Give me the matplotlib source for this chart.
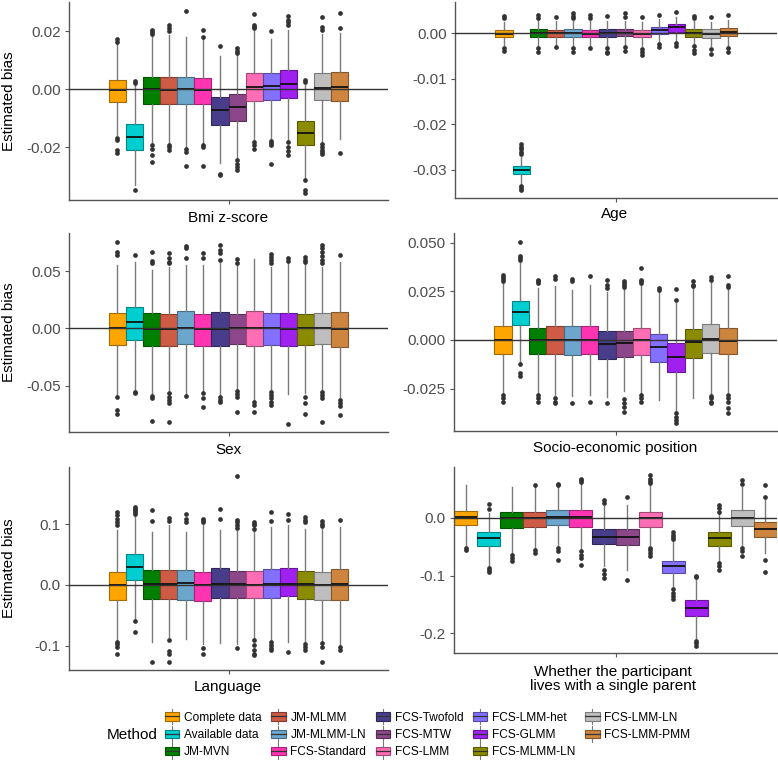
import numpy as np
import matplotlib
matplotlib.use("Agg")
import matplotlib.pyplot as plt
from matplotlib.colors import to_rgb
from matplotlib.patches import Rectangle
from matplotlib.lines import Line2D
from matplotlib.legend_handler import HandlerBase

plt.rcParams['font.family'] = ['Liberation Sans', 'DejaVu Sans']
plt.rcParams['axes.unicode_minus'] = False

methods = ["Complete data", "Available data", "JM-MVN", "JM-MLMM", "JM-MLMM-LN",
           "FCS-Standard", "FCS-Twofold", "FCS-MTW", "FCS-LMM", "FCS-LMM-het",
           "FCS-GLMM", "FCS-MLMM-LN", "FCS-LMM-LN", "FCS-LMM-PMM"]
colors = ["#FFA500", "#00CED1", "#008000", "#CD5B45", "#6CA6CD", "#FF34B3", "#483D8B",
          "#8B4789", "#FF6EB4", "#8470FF", "#A020F0", "#8B8B00", "#BEBEBE", "#CD853F"]

# Bmi z-score
bmi_lo = [-0.0158, -0.0330, -0.0185, -0.0187, -0.0198, -0.0187, -0.0255, -0.0238, -0.0176, -0.0170, -0.0176, -0.0305, -0.0182, -0.0170]
bmi_q1 = [-0.0045, -0.0208, -0.0049, -0.0049, -0.0049, -0.0049, -0.0122, -0.0108, -0.0040, -0.0035, -0.0031, -0.0191, -0.0037, -0.0040]
bmi_med = [-0.0003, -0.0165, 0.0000, -0.0003, 0.0000, -0.0003, -0.0070, -0.0060, 0.0008, 0.0011, 0.0020, -0.0150, 0.0006, 0.0008]
bmi_q3 = [0.0034, -0.0119, 0.0042, 0.0044, 0.0044, 0.0040, -0.0026, -0.0017, 0.0057, 0.0057, 0.0068, -0.0110, 0.0056, 0.0059]
bmi_hi = [0.0155, 0.0015, 0.0185, 0.0188, 0.0180, 0.0175, 0.0114, 0.0118, 0.0200, 0.0175, 0.0205, 0.0015, 0.0190, 0.0195]
bmi_out = [[0.0172, 0.0163, -0.0167, -0.0175, -0.0210, -0.0220],
           [0.0030, 0.0023, -0.0345],
           [0.0205, 0.0197, 0.0190, -0.0193, -0.0205, -0.0227, -0.0250],
           [0.0222, 0.0212, 0.0200, -0.0193, -0.0199, -0.0208],
           [0.0270, -0.0205, -0.0215, -0.0265],
           [0.0206, 0.0182, -0.0193, -0.0200, -0.0264],
           [0.0148, -0.0290, -0.0295],
           [0.0142, 0.0133, 0.0125, -0.0244, -0.0256, -0.0267, -0.0278],
           [0.0258, 0.0222, 0.0216, 0.0210, -0.0182, -0.0193, -0.0205],
           [0.0201, -0.0178, -0.0186, -0.0193, -0.0258],
           [0.0253, 0.0240, 0.0231, 0.0222, -0.0182, -0.0199, -0.0212, -0.0227],
           [0.0034, 0.0026, -0.0312, -0.0347, -0.0356],
           [0.0250, 0.0216, 0.0205, -0.0188, -0.0199, -0.0210, -0.0216, -0.0222],
           [0.0264, 0.0210, -0.0219]]

# Age
age_lo = [-0.0025, -0.0330, -0.0028, -0.0025, -0.0028, -0.0027, -0.0028, -0.0027, -0.0028, -0.0020, -0.0016, -0.0025, -0.0028, -0.0027]
age_q1 = [-0.0009, -0.0309, -0.0008, -0.0007, -0.0008, -0.0007, -0.0007, -0.0006, -0.0009, -0.0001, 0.0004, -0.0007, -0.0010, -0.0006]
age_med = [-0.0001, -0.0301, 0.0000, 0.0000, 0.0000, -0.0001, 0.0001, 0.0001, -0.0001, 0.0007, 0.0013, 0.0000, -0.0001, 0.0004]
age_q3 = [0.0007, -0.0292, 0.0009, 0.0008, 0.0009, 0.0007, 0.0009, 0.0009, 0.0007, 0.0015, 0.0020, 0.0009, 0.0009, 0.0011]
age_hi = [0.0025, -0.0272, 0.0028, 0.0027, 0.0028, 0.0027, 0.0028, 0.0028, 0.0026, 0.0032, 0.0035, 0.0028, 0.0026, 0.0030]
age_out = [[0.0038, 0.0033, -0.0033, -0.0038],
           [-0.0244, -0.0250, -0.0255, -0.0260, -0.0265, -0.0335, -0.0340, -0.0344],
           [0.0040, 0.0033, -0.0033, -0.0040],
           [0.0036, -0.0031],
           [0.0044, 0.0038, 0.0033, -0.0033, -0.0040],
           [0.0040, 0.0033, -0.0033],
           [0.0038, -0.0033, -0.0040, -0.0044],
           [0.0044, 0.0036, -0.0031, -0.0038],
           [0.0036, -0.0035, -0.0040, -0.0047],
           [0.0041, -0.0024, -0.0029],
           [0.0047, -0.0022, -0.0028],
           [0.0038, 0.0034, -0.0028, -0.0036, -0.0044],
           [0.0036, -0.0035, -0.0046],
           [0.0040, -0.0033, -0.0040]]

# Sex
sex_lo = [-0.0583, -0.0540, -0.0575, -0.0540, -0.0580, -0.0550, -0.0580, -0.0530, -0.0627, -0.0540, -0.0577, -0.0568, -0.0540, -0.0612]
sex_q1 = [-0.0149, -0.0102, -0.0152, -0.0152, -0.0140, -0.0152, -0.0155, -0.0140, -0.0155, -0.0143, -0.0152, -0.0146, -0.0134, -0.0160]
sex_med = [0.0000, 0.0058, -0.0006, -0.0006, 0.0000, -0.0009, -0.0006, 0.0000, 0.0000, 0.0000, -0.0006, 0.0000, 0.0006, -0.0006]
sex_q3 = [0.0137, 0.0190, 0.0131, 0.0125, 0.0152, 0.0125, 0.0140, 0.0125, 0.0155, 0.0131, 0.0137, 0.0128, 0.0134, 0.0140]
sex_hi = [0.0554, 0.0583, 0.0510, 0.0540, 0.0554, 0.0554, 0.0570, 0.0554, 0.0606, 0.0540, 0.0570, 0.0570, 0.0540, 0.0583]
sex_out = [[0.0752, 0.0670, 0.0641, -0.0598, -0.0714, -0.0749],
           [0.0641, -0.0554, -0.0568],
           [0.0670, 0.0589, 0.0568, -0.0592, -0.0612, -0.0807],
           [0.0656, 0.0612, 0.0583, 0.0568, -0.0568, -0.0598, -0.0627, -0.0656, -0.0816],
           [0.0720, 0.0700, 0.0612, -0.0592],
           [0.0656, 0.0612, -0.0568, -0.0612, -0.0685],
           [0.0729, 0.0685, 0.0656, 0.0598, -0.0598, -0.0627, -0.0641],
           [0.0606, 0.0568, -0.0545, -0.0574, -0.0598, -0.0729],
           [-0.0641, -0.0670, -0.0729],
           [0.0650, 0.0627, 0.0598, 0.0568, -0.0554, -0.0583, -0.0612, -0.0641, -0.0670],
           [0.0612, 0.0592, -0.0840],
           [0.0627, 0.0598, 0.0577, -0.0598, -0.0650, -0.0749],
           [0.0729, 0.0700, 0.0670, 0.0632, 0.0598, 0.0568, -0.0554, -0.0583, -0.0612, -0.0822],
           [0.0641, -0.0627, -0.0656, -0.0680, -0.0758]]

# Socio-economic position
sep_lo = [-0.0275, -0.0112, -0.0275, -0.0283, -0.0290, -0.0283, -0.0295, -0.0265, -0.0275, -0.0309, -0.0369, -0.0300, -0.0280, -0.0270]
sep_q1 = [-0.0074, 0.0074, -0.0074, -0.0072, -0.0077, -0.0072, -0.0100, -0.0089, -0.0077, -0.0112, -0.0163, -0.0091, -0.0069, -0.0074]
sep_med = [-0.0003, 0.0142, 0.0000, 0.0000, 0.0000, 0.0000, -0.0022, -0.0014, 0.0000, -0.0034, -0.0086, -0.0012, 0.0003, -0.0005]
sep_q3 = [0.0072, 0.0201, 0.0063, 0.0069, 0.0069, 0.0069, 0.0046, 0.0046, 0.0060, 0.0029, -0.0017, 0.0055, 0.0081, 0.0063]
sep_hi = [0.0290, 0.0395, 0.0266, 0.0275, 0.0257, 0.0283, 0.0245, 0.0260, 0.0283, 0.0249, 0.0189, 0.0266, 0.0290, 0.0260]
sep_out = [[0.0335, 0.0325, 0.0315, 0.0305, -0.0283, -0.0300, -0.0317],
           [0.0501, 0.0432, 0.0420, 0.0410, -0.0125, -0.0172, -0.0184],
           [0.0309, 0.0300, 0.0292, -0.0283, -0.0300, -0.0317],
           [0.0326, 0.0312, -0.0300, -0.0317, -0.0326],
           [0.0312, 0.0300, -0.0326],
           [0.0326, -0.0317],
           [0.0309, 0.0283, 0.0266, -0.0326],
           [0.0300, 0.0290, 0.0280, 0.0270, -0.0305, -0.0326, -0.0343, -0.0369],
           [0.0369, 0.0309, 0.0300, 0.0292, -0.0283, -0.0300, -0.0317],
           [0.0266, 0.0257],
           [0.0261, 0.0206, -0.0377, -0.0395, -0.0412, -0.0425],
           [0.0300, 0.0283, 0.0275],
           [0.0321, 0.0309, -0.0290, -0.0300, -0.0317, -0.0326],
           [0.0326, 0.0283, 0.0270, -0.0283, -0.0300, -0.0317, -0.0352, -0.0377]]

# Language
lang_lo = [-0.0910, -0.0553, -0.0937, -0.0855, -0.0882, -0.0964, -0.0953, -0.0964, -0.0882, -0.0910, -0.0937, -0.0937, -0.0937, -0.0991]
lang_q1 = [-0.0241, 0.0077, -0.0236, -0.0225, -0.0241, -0.0268, -0.0214, -0.0219, -0.0219, -0.0219, -0.0186, -0.0236, -0.0252, -0.0241]
lang_med = [0.0005, 0.0296, 0.0011, 0.0022, 0.0033, -0.0005, 0.0011, 0.0011, 0.0000, 0.0016, 0.0022, 0.0011, 0.0005, 0.0016]
lang_q3 = [0.0214, 0.0504, 0.0252, 0.0241, 0.0252, 0.0214, 0.0274, 0.0230, 0.0230, 0.0258, 0.0274, 0.0230, 0.0219, 0.0258]
lang_hi = [0.0899, 0.1145, 0.0871, 0.0980, 0.0871, 0.0991, 0.0899, 0.0880, 0.0880, 0.0953, 0.0980, 0.0926, 0.0926, 0.0953]
lang_out = [[0.1200, 0.1145, 0.1090, 0.1036, 0.0980, -0.0937, -0.0980, -0.1019, -0.1140],
            [0.1280, 0.1255, 0.1227, 0.1200, 0.1170, -0.0592, -0.0773],
            [0.1227, 0.1052, -0.1266],
            [0.1107, 0.1052, -0.0910, -0.1085, -0.1140, -0.1266],
            [0.1170, 0.1090, 0.1036],
            [0.1090, 0.1063, 0.1036, -0.1030, -0.1129],
            [0.1255, 0.1080],
            [0.1786, 0.1063, 0.1036, 0.0980, 0.0942, -0.1036],
            [0.1036, 0.1008, 0.0980, 0.0926, -0.0910, -0.0991, -0.1074, -0.1129, -0.1156],
            [0.1200, 0.1052, -0.0937, -0.0991, -0.1046, -0.1074],
            [0.1162, 0.1063, -0.1112],
            [0.1118, 0.1063, 0.1036, -0.0964, -0.1019, -0.1074],
            [0.1052, 0.1008, 0.0964, -0.0953, -0.1019, -0.1266],
            [0.1074, -0.1019, -0.1074]]

# Whether the participant lives with a single parent
par_lo = [-0.0497, -0.0840, -0.0611, -0.0526, -0.0497, -0.0554, -0.0840, -0.0897, -0.0469, -0.1183, -0.2097, -0.0754, -0.0497, -0.0611]
par_q1 = [-0.0131, -0.0497, -0.0183, -0.0154, -0.0126, -0.0154, -0.0457, -0.0480, -0.0154, -0.0954, -0.1697, -0.0486, -0.0143, -0.0337]
par_med = [0.0011, -0.0354, -0.0011, 0.0000, 0.0017, 0.0006, -0.0326, -0.0326, -0.0011, -0.0840, -0.1554, -0.0354, -0.0011, -0.0194]
par_q3 = [0.0114, -0.0240, 0.0103, 0.0103, 0.0131, 0.0131, -0.0200, -0.0200, 0.0103, -0.0754, -0.1429, -0.0240, 0.0131, -0.0069]
par_hi = [0.0560, 0.0074, 0.0531, 0.0531, 0.0531, 0.0600, 0.0200, 0.0217, 0.0560, -0.0400, -0.1040, 0.0074, 0.0530, 0.0300]
par_out = [[-0.0526, -0.0566],
           [0.0234, 0.0143, -0.0869, -0.0897, -0.0943],
           [-0.0640, -0.0697, -0.0754],
           [0.0560, -0.0554, -0.0611],
           [0.0589, 0.0560, -0.0526, -0.0583, -0.0726],
           [0.0674, 0.0650, 0.0617, -0.0583, -0.0640, -0.0697, -0.0811],
           [0.0303, 0.0246, -0.0897, -0.0966, -0.1040],
           [0.0360, -0.1069],
           [0.0731, 0.0674, 0.0640, 0.0600, -0.0526, -0.0554, -0.0611, -0.0669],
           [-0.0240, -0.0297, -0.0337, -0.0370, -0.1240, -0.1297, -0.1354, -0.1411],
           [-0.1000, -0.1020, -0.2126, -0.2171, -0.2211],
           [0.0217, 0.0160, 0.0103, -0.0783, -0.0840, -0.0897],
           [0.0646, 0.0589, -0.0526, -0.0583, -0.0657],
           [0.0560, 0.0349, -0.0726, -0.0943]]

panel_titles = ["Bmi z-score", "Age", "Sex", "Socio-economic position",
                "Language", "Whether the participant\nlives with a single parent"]
panel_ticks = [[-0.02, 0.00, 0.02], [-0.03, -0.02, -0.01, 0.00], [-0.05, 0.00, 0.05],
               [-0.025, 0.000, 0.025, 0.050], [-0.1, 0.0, 0.1], [-0.2, -0.1, 0.0]]
tick_fmt = ["%.2f", "%.2f", "%.2f", "%.3f", "%.1f", "%.1f"]
panel_data = [
    (bmi_lo, bmi_q1, bmi_med, bmi_q3, bmi_hi, bmi_out),
    (age_lo, age_q1, age_med, age_q3, age_hi, age_out),
    (sex_lo, sex_q1, sex_med, sex_q3, sex_hi, sex_out),
    (sep_lo, sep_q1, sep_med, sep_q3, sep_hi, sep_out),
    (lang_lo, lang_q1, lang_med, lang_q3, lang_hi, lang_out),
    (par_lo, par_q1, par_med, par_q3, par_hi, par_out),
]

W, H = 778, 762
# panel boxes in pixels: left, top, right, bottom
boxes_px = [(69, 2, 388, 200), (455, 2, 777, 198),
            (69, 233, 388, 432), (454, 233, 777, 431),
            (69, 467, 388, 670), (454, 467, 777, 653)]
ylims = [(-0.0381, 0.0301), (-0.0362, 0.0069), (-0.0906, 0.0833),
         (-0.0468, 0.0549), (-0.140, 0.194), (-0.2338, 0.0875)]
title_px = [(228, 218), (615, 214), (228, 450), (615, 448), (228, 687), (613, 679)]

def darker(c, f=0.65):
    r, g, b = to_rgb(c)
    return (r * f, g * f, b * f)

fig = plt.figure(figsize=(W / 100, H / 100), dpi=100)

n = len(methods)
w = 0.9 / n
pos = 1 + (np.arange(n) - (n - 1) / 2) * w

for k in range(6):
    l, t, r, b = boxes_px[k]
    ax = fig.add_axes([l / W, 1 - b / H, (r - l) / W, (b - t) / H])
    lo, q1, med, q3, hi, out = panel_data[k]
    stats = []
    for i in range(n):
        stats.append(dict(whislo=lo[i], q1=q1[i], med=med[i], q3=q3[i],
                          whishi=hi[i], fliers=np.array(out[i])))
    bp = ax.bxp(stats, positions=pos, widths=w, patch_artist=True,
                showfliers=True, manage_ticks=False,
                whiskerprops=dict(color="#7a7a7a", lw=1.0),
                capprops=dict(visible=False),
                medianprops=dict(color="#111111", lw=1.3),
                flierprops=dict(marker="o", markerfacecolor="#333333",
                                markeredgecolor="none", markersize=3.4))
    for i, patch in enumerate(bp["boxes"]):
        patch.set_facecolor(colors[i])
        patch.set_edgecolor(darker(colors[i]))
        patch.set_linewidth(0.8)
    ax.axhline(0, color="#333333", lw=1.0, zorder=5)
    if k == 5:
        ax.set_xlim(1 - 0.45, 1 + 0.45)
    else:
        ax.set_xlim(0.4, 1.6)
    ax.set_ylim(*ylims[k])
    ax.set_xticks([1])
    ax.set_xticklabels([])
    ax.set_yticks(panel_ticks[k])
    ax.set_yticklabels([tick_fmt[k] % v for v in panel_ticks[k]])
    ax.tick_params(colors="#555555", labelcolor="#4D4D4D", labelsize=11,
                   length=3, width=0.8, pad=3)
    for s in ["top", "right"]:
        ax.spines[s].set_visible(False)
    for s in ["left", "bottom"]:
        ax.spines[s].set_color("#555555")
        ax.spines[s].set_linewidth(1.0)
    tx, ty = title_px[k]
    fig.text(tx / W, 1 - ty / H, panel_titles[k], ha="center", va="center",
             fontsize=11, linespacing=0.95)
    if k % 2 == 0:
        fig.text(9 / W, 1 - ((t + b) / 2) / H, "Estimated bias", rotation=90,
                 ha="center", va="center", fontsize=11)


class BoxKey(HandlerBase):
    def create_artists(self, legend, orig_handle, xdescent, ydescent,
                       width, height, fontsize, trans):
        c = orig_handle.get_facecolor()
        rect = Rectangle((-xdescent, -ydescent + height * 0.05), width, height * 0.9,
                         facecolor=c, edgecolor=darker(c), lw=0.8, transform=trans)
        cx = -xdescent + width / 2
        wl1 = Line2D([cx, cx], [-ydescent - height * 0.35, -ydescent + height * 0.05],
                     color="#7a7a7a", lw=0.8, transform=trans)
        wl2 = Line2D([cx, cx], [-ydescent + height * 0.95, -ydescent + height * 1.35],
                     color="#7a7a7a", lw=0.8, transform=trans)
        ml = Line2D([-xdescent, -xdescent + width], [-ydescent + height / 2] * 2,
                    color="#333333", lw=0.9, transform=trans)
        return [wl1, wl2, rect, ml]


handles = [Rectangle((0, 0), 1, 1, facecolor=c) for c in colors]
fig.legend(handles, methods, handler_map={Rectangle: BoxKey()}, ncol=5,
           loc="center left", bbox_to_anchor=(165 / W, 1 - 735 / H),
           frameon=False, borderpad=0, borderaxespad=0, fontsize=8.6,
           handlelength=1.2, handleheight=0.8, handletextpad=0.4,
           columnspacing=0.8, labelspacing=0.45)
fig.text(132 / W, 1 - 735 / H, "Method", ha="center", va="center", fontsize=11)

fig.savefig("out.png", dpi=100)
